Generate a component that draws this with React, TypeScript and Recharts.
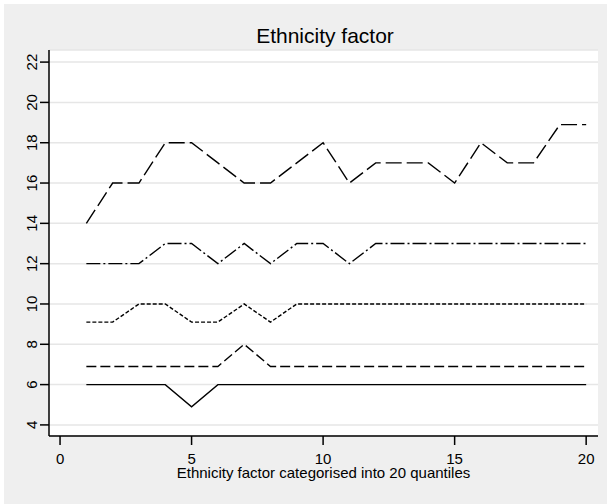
import React from 'react';
import { LineChart, Line, XAxis, YAxis, CartesianGrid, Label } from 'recharts';

const quantiles = [1, 2, 3, 4, 5, 6, 7, 8, 9, 10, 11, 12, 13, 14, 15, 16, 17, 18, 19, 20];
const seriesSolid = [6, 6, 6, 6, 4.9, 6, 6, 6, 6, 6, 6, 6, 6, 6, 6, 6, 6, 6, 6, 6];
const seriesDash = [6.9, 6.9, 6.9, 6.9, 6.9, 6.9, 8, 6.9, 6.9, 6.9, 6.9, 6.9, 6.9, 6.9, 6.9, 6.9, 6.9, 6.9, 6.9, 6.9];
const seriesShortDash = [9.1, 9.1, 10, 10, 9.1, 9.1, 10, 9.1, 10, 10, 10, 10, 10, 10, 10, 10, 10, 10, 10, 10];
const seriesDashDot = [12, 12, 12, 13, 13, 12, 13, 12, 13, 13, 12, 13, 13, 13, 13, 13, 13, 13, 13, 13];
const seriesLongDash = [14, 16, 16, 18, 18, 17, 16, 16, 17, 18, 16, 17, 17, 17, 16, 18, 17, 17, 18.9, 18.9];

const xTicks = [0, 5, 10, 15, 20];
const yTicks = [4, 6, 8, 10, 12, 14, 16, 18, 20, 22];

const titleText = 'Ethnicity factor';
const xTitle = 'Ethnicity factor categorised into 20 quantiles';

const data = quantiles.map((q, i) => ({
  q,
  a: seriesSolid[i],
  b: seriesDash[i],
  c: seriesShortDash[i],
  d: seriesDashDot[i],
  e: seriesLongDash[i],
}));

const FONT = '"Liberation Sans", Arial, Helvetica, sans-serif';

const YTick = (props: any) => {
  const { x, y, payload } = props;
  return (
    <text
      x={x}
      y={y}
      transform={`rotate(-90 ${x} ${y})`}
      textAnchor="middle"
      fontSize={15}
      fontFamily={FONT}
      fill="#000"
    >
      {payload.value}
    </text>
  );
};

export default function App() {
  return (
    <div style={{ position: 'absolute', left: 0, top: 0, width: 607, height: 504, background: '#fff' }}>
      <div style={{ position: 'absolute', left: 4, top: 4, width: 603, height: 500, background: '#efefef' }}>
        <LineChart
          width={603}
          height={500}
          data={data}
          margin={{ top: 46, right: 9, bottom: 0, left: 0 }}
          style={{ fontFamily: FONT }}
        >
          <CartesianGrid vertical={false} stroke="#e6e6e6" strokeWidth={1.5} fill="#ffffff" />
          <XAxis
            dataKey="q"
            type="number"
            domain={[-0.42, 20.45]}
            ticks={xTicks}
            allowDataOverflow
            height={68}
            tickSize={9}
            tickMargin={8}
            axisLine={{ stroke: '#000', strokeWidth: 1.5 }}
            tickLine={{ stroke: '#000', strokeWidth: 1.5 }}
            tick={{ fontSize: 15, fill: '#000', fontFamily: FONT }}
          >
            <Label
              value={xTitle}
              position="insideBottom"
              offset={26}
              style={{ fontSize: 15, fill: '#000', fontFamily: FONT }}
            />
          </XAxis>
          <YAxis
            type="number"
            domain={[3.45, 22.6]}
            ticks={yTicks}
            allowDataOverflow
            width={45}
            tickSize={9}
            tickMargin={3}
            axisLine={{ stroke: '#000', strokeWidth: 1.5 }}
            tickLine={{ stroke: '#000', strokeWidth: 1.5 }}
            tick={<YTick />}
          />
          <Line dataKey="a" stroke="#000" strokeWidth={1.4} dot={false} isAnimationActive={false} />
          <Line dataKey="b" stroke="#000" strokeWidth={1.4} strokeDasharray="10 4" dot={false} isAnimationActive={false} />
          <Line dataKey="c" stroke="#000" strokeWidth={1.4} strokeDasharray="4 2" dot={false} isAnimationActive={false} />
          <Line dataKey="d" stroke="#000" strokeWidth={1.4} strokeDasharray="14 3 2 3" dot={false} isAnimationActive={false} />
          <Line dataKey="e" stroke="#000" strokeWidth={1.4} strokeDasharray="16 5" dot={false} isAnimationActive={false} />
          <text x={321} y={39} textAnchor="middle" fontSize={21} fontFamily={FONT} fill="#000">
            {titleText}
          </text>
        </LineChart>
      </div>
    </div>
  );
}
